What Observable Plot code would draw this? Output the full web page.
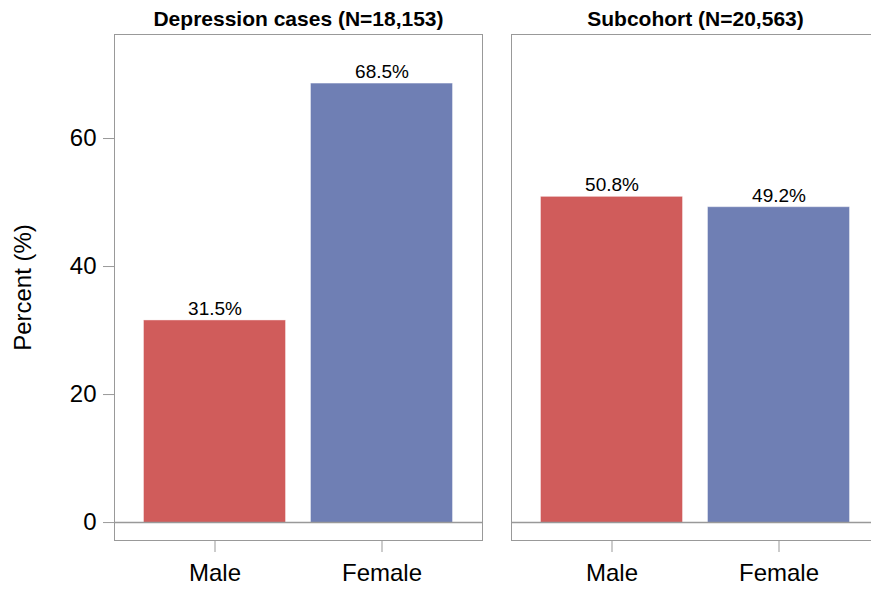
<!DOCTYPE html>
<html>
<head>
<meta charset="utf-8">
<script src="https://cdn.jsdelivr.net/npm/d3@7"></script>
<script src="https://cdn.jsdelivr.net/npm/@observablehq/plot@0.6"></script>
<style>
  html, body { margin: 0; padding: 0; background: #fff; overflow: hidden; }
  #chart { width: 871px; height: 594px; overflow: hidden; }
  #chart svg { max-width: none !important; }
</style>
</head>
<body>
<div id="chart"></div>
<script>
const panels = ["Depression cases (N=18,153)", "Subcohort (N=20,563)"];
const sexes = ["Male", "Female"];
const depressionPct = [31.5, 68.5];
const subcohortPct = [50.8, 49.2];
const yTicks = [0, 20, 40, 60];
const sexColors = ["#D05C5B", "#6F7FB4"];

const data = [];
[depressionPct, subcohortPct].forEach((vals, i) => {
  vals.forEach((v, j) => data.push({panel: panels[i], sex: sexes[j], pct: v}));
});

const chart = Plot.plot({
  width: 880,
  height: 594,
  marginLeft: 114,
  marginRight: 1,
  marginTop: 34,
  marginBottom: 54,
  style: {fontFamily: "Liberation Sans, Arial, sans-serif", fontSize: "24px", color: "black", background: "white", maxWidth: "none"},
  fx: {domain: panels, paddingInner: 29 / 397, paddingOuter: 0, label: null},
  x: {domain: sexes, paddingInner: 0.155, paddingOuter: 0.173, label: null},
  y: {domain: [-2.8, 76.25], label: null},
  color: {domain: sexes, range: sexColors},
  marks: [
    Plot.frame({stroke: "#999"}),
    Plot.barY(data, {fx: "panel", x: "sex", y: "pct", fill: "sex", stroke: "sex", strokeOpacity: 0.6}),
    Plot.ruleY([0], {stroke: "#999", strokeWidth: 1.5}),
    Plot.text(data, {fx: "panel", x: "sex", y: "pct", text: d => d.pct.toFixed(1) + "%", lineAnchor: "bottom", dy: -6, fontSize: 19, fill: "black"}),
    Plot.axisY({ticks: yTicks, tickSize: 11, tickPadding: 7, stroke: "#999", fill: "black", fontSize: 24,
      label: "Percent (%)", labelAnchor: "center", labelOffset: 101, labelArrow: "none"}),
    Plot.axisX({tickSize: 12, tickPadding: 11, stroke: "#999", fill: "black", fontSize: 24}),
    Plot.axisFx({anchor: "top", tickSize: 0, tickPadding: 9, fontSize: 21, fontWeight: "bold", fill: "black", label: null})
  ]
});
document.getElementById("chart").appendChild(chart);
</script>
</body>
</html>
